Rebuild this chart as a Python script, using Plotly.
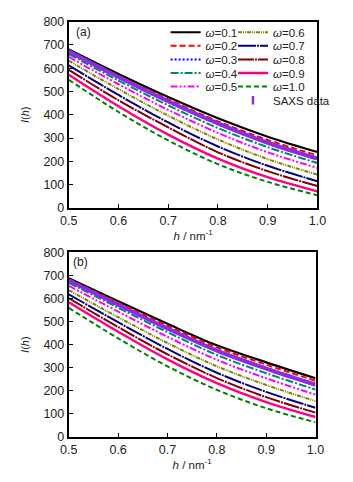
import plotly.graph_objects as go

# ---------------- data ----------------
h = [0.5, 0.6, 0.7, 0.8, 0.9, 1.0]
omega_labels = ["0.1", "0.2", "0.3", "0.4", "0.5", "0.6", "0.7", "0.8", "0.9", "1.0"]

# panel (a)
a_w01 = [680, 575, 476, 385, 306, 240]
a_w02 = [675, 567, 466, 372, 292, 226]
a_w03 = [668, 558, 454, 359, 278, 210]
a_w04 = [660, 547, 440, 343, 261, 193]
a_w05 = [648, 531, 421, 322, 239, 172]
a_w06 = [632, 510, 396, 294, 210, 143]
a_w07 = [612, 485, 367, 264, 181, 115]
a_w08 = [593, 462, 346, 239, 158, 94]
a_w09 = [572, 437, 315, 212, 132, 71]
a_w10 = [550, 412, 290, 188, 112, 55]
a_saxs = [672, 562, 458, 363, 280, 212]

# panel (b)
b_w01 = [688, 588, 490, 397, 323, 254]
b_w02 = [684, 582, 482, 388, 313, 243]
b_w03 = [679, 575, 473, 377, 300, 230]
b_w04 = [668, 560, 454, 355, 276, 205]
b_w05 = [655, 543, 434, 334, 254, 183]
b_w06 = [636, 519, 407, 306, 225, 155]
b_w07 = [618, 497, 381, 278, 195, 126]
b_w08 = [601, 476, 358, 255, 172, 105]
b_w09 = [584, 456, 336, 233, 151, 86]
b_w10 = [559, 427, 306, 204, 124, 63]
b_saxs = [678, 573, 470, 374, 296, 226]

x_ticks = [0.5, 0.6, 0.7, 0.8, 0.9, 1.0]
y_ticks = [0, 100, 200, 300, 400, 500, 600, 700, 800]

# ---------------- styles ----------------
colors = ["#000000", "#FF0000", "#0000FF", "#008080", "#FF00FF",
          "#808000", "#000080", "#800000", "#FF0080", "#008000"]
dashes = ["solid", "6px,3px", "2px,2px", "8px,2px,2px,2px", "7px,2px,2px,2px,2px,2px",
          "4px,1px,1px,1px,1px,1px", "18px,1px,2px,1px", "16px,1px,2px,1px", "solid", "5px,3px"]
widths = [2.2, 2, 2, 2, 2, 2, 2, 2, 2.4, 2]
saxs_color = "#8B2BE2"
FONT = "Liberation Sans, Arial, sans-serif"

W, H = 353, 482
a_series = [a_w01, a_w02, a_w03, a_w04, a_w05, a_w06, a_w07, a_w08, a_w09, a_w10]
b_series = [b_w01, b_w02, b_w03, b_w04, b_w05, b_w06, b_w07, b_w08, b_w09, b_w10]

fig = go.Figure()

# legend placement (one small legend per entry, two columns)
col_x = [165, 236]
row_y0, row_dy = 26, 14
legend_layouts = {}

for i, (lab, ys) in enumerate(zip(omega_labels, a_series)):
    col, row = (0, i) if i < 5 else (1, i - 5)
    lname = "legend" if i == 0 else f"legend{i + 1}"
    legend_layouts[lname] = dict(
        x=col_x[col] / W, y=1 - (row_y0 + row_dy * row) / H,
        xanchor="left", yanchor="middle", bgcolor="rgba(0,0,0,0)",
        borderwidth=0, font=dict(family=FONT, size=11.5, color="#222"),
        itemwidth=30, tracegroupgap=0)
    fig.add_trace(go.Scatter(
        x=h, y=ys, mode="lines", name=f"<i>ω</i>=" + lab,
        line=dict(color=colors[i], dash=dashes[i], width=widths[i], shape="spline"),
        xaxis="x", yaxis="y", legend=lname, showlegend=True))

fig.add_trace(go.Scatter(
    x=h, y=a_saxs, mode="lines", name="SAXS data",
    line=dict(color=saxs_color, width=4, shape="spline"),
    xaxis="x", yaxis="y", showlegend=False))
# legend-only marker entry for SAXS
legend_layouts["legend11"] = dict(
    x=col_x[1] / W, y=1 - (row_y0 + row_dy * 5) / H,
    xanchor="left", yanchor="middle", bgcolor="rgba(0,0,0,0)",
    borderwidth=0, font=dict(family=FONT, size=11.5, color="#222"),
    itemwidth=30)
fig.add_trace(go.Scatter(
    x=[None], y=[None], mode="markers", name="SAXS data",
    marker=dict(symbol="line-ns", size=6, line=dict(color=saxs_color, width=2.5)),
    xaxis="x", yaxis="y", legend="legend11", showlegend=True))

for i, ys in enumerate(b_series):
    fig.add_trace(go.Scatter(
        x=h, y=ys, mode="lines", name=f"<i>ω</i>=" + omega_labels[i],
        line=dict(color=colors[i], dash=dashes[i], width=widths[i], shape="spline"),
        xaxis="x2", yaxis="y2", showlegend=False))
fig.add_trace(go.Scatter(
    x=h, y=b_saxs, mode="lines", name="SAXS data",
    line=dict(color=saxs_color, width=4, shape="spline"),
    xaxis="x2", yaxis="y2", showlegend=False))

axis_common = dict(
    showgrid=False, zeroline=False, showline=True, linecolor="black", linewidth=2,
    mirror=True, ticks="inside", ticklen=4, tickwidth=1.2, tickcolor="black",
    tickfont=dict(family=FONT, size=12.5, color="#222"))

xa = dict(axis_common, range=[0.5, 1.0], tickvals=x_ticks, tickformat=".1f",
          title=dict(text="<i>h</i> / nm<sup>-1</sup>", font=dict(family=FONT, size=11.5, color="#222"),
                     standoff=2))
ya = dict(axis_common, range=[0, 800], tickvals=y_ticks,
          title=dict(text="<i>I</i>(<i>h</i>)", font=dict(family=FONT, size=11, color="#222"),
                     standoff=12))

fig.update_layout(
    width=W, height=H, autosize=False,
    margin=dict(l=0, r=0, t=0, b=0),
    paper_bgcolor="white", plot_bgcolor="white",
    xaxis=dict(xa, domain=[63 / W, 325 / W], anchor="y"),
    yaxis=dict(ya, domain=[1 - 207 / H, 1 - 15 / H], anchor="x"),
    xaxis2=dict(xa, domain=[63 / W, 323 / W], anchor="y2"),
    yaxis2=dict(ya, domain=[1 - 442.7 / H, 1 - 252.7 / H], anchor="x2"),
    annotations=[
        dict(text="(a)", x=68 / W, y=1 - 26 / H, xref="paper", yref="paper",
             xanchor="left", yanchor="middle", showarrow=False,
             font=dict(family=FONT, size=12, color="#222")),
        dict(text="(b)", x=65 / W, y=1 - 263 / H, xref="paper", yref="paper",
             xanchor="left", yanchor="middle", showarrow=False,
             font=dict(family=FONT, size=12, color="#222")),
    ],
    **legend_layouts,
)

fig.write_html("out.html")
